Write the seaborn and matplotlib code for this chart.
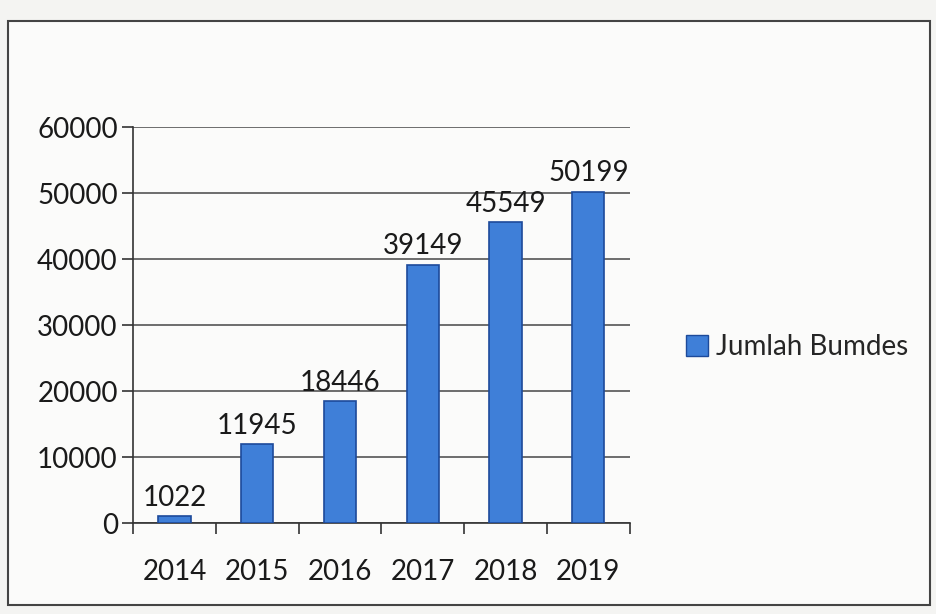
import matplotlib
matplotlib.use("Agg")
import matplotlib.pyplot as plt
import seaborn as sns
import pandas as pd
from matplotlib.patches import Patch, Rectangle

years = ["2014", "2015", "2016", "2017", "2018", "2019"]
values = [1022, 11945, 18446, 39149, 45549, 50199]
series_name = "Jumlah Bumdes"
yticks = [0, 10000, 20000, 30000, 40000, 50000, 60000]

sns.set_theme(style="white")
plt.rcParams['font.family'] = ['Lato', 'DejaVu Sans']

df = pd.DataFrame({"Tahun": years, "Jumlah": values})

fig = plt.figure(figsize=(9.37, 6.14), dpi=100)
fig.patch.set_facecolor("#f4f4f2")
fig.add_artist(Rectangle((0.009, 0.015), 0.984, 0.95, transform=fig.transFigure,
                         facecolor="#fbfbfa", edgecolor="#444444", linewidth=1.5, zorder=0))
ax = fig.add_axes([0.142, 0.148, 0.530, 0.645])
ax.set_facecolor("none")

bar_color = "#3f7fd8"
sns.barplot(data=df, x="Tahun", y="Jumlah", color=bar_color, width=0.39,
            edgecolor="#1d4a9a", linewidth=1.2, saturation=1, ax=ax, zorder=3)

ax.set_ylim(0, 60000)
ax.set_yticks(yticks)
ax.set_yticklabels([str(v) for v in yticks])
ax.set_xlim(-0.5, 5.5)
ax.set_xlabel("")
ax.set_ylabel("")
ax.grid(axis="y", color="#555555", linewidth=1.2, zorder=0)
ax.grid(axis="x", visible=False)

for s in ["top", "right"]:
    ax.spines[s].set_visible(False)
for s in ["left", "bottom"]:
    ax.spines[s].set_color("#333333")
    ax.spines[s].set_linewidth(1.2)

fs = 20
ax.tick_params(axis="y", which="major", left=True, length=8, width=1.2, color="#333333",
               labelsize=fs, labelcolor="#1a1a1a", pad=3)
ax.tick_params(axis="x", bottom=False, labelsize=fs, labelcolor="#1a1a1a", pad=20)
# category boundary ticks
ax.set_xticks([i - 0.5 for i in range(len(years) + 1)], minor=True)
ax.tick_params(axis="x", which="minor", bottom=True, length=8, width=1.2, color="#333333")

for c in ax.containers:
    ax.bar_label(c, labels=[str(v) for v in values], padding=4, fontsize=fs, color="#1a1a1a")

fig.legend(handles=[Patch(facecolor=bar_color, edgecolor="#1d4a9a", label=series_name)],
           loc="center left", bbox_to_anchor=(0.705, 0.435), frameon=False, fontsize=fs,
           handlelength=0.8, handleheight=0.8, handletextpad=0.3)

fig.savefig("out.png", dpi=100, facecolor=fig.get_facecolor())
